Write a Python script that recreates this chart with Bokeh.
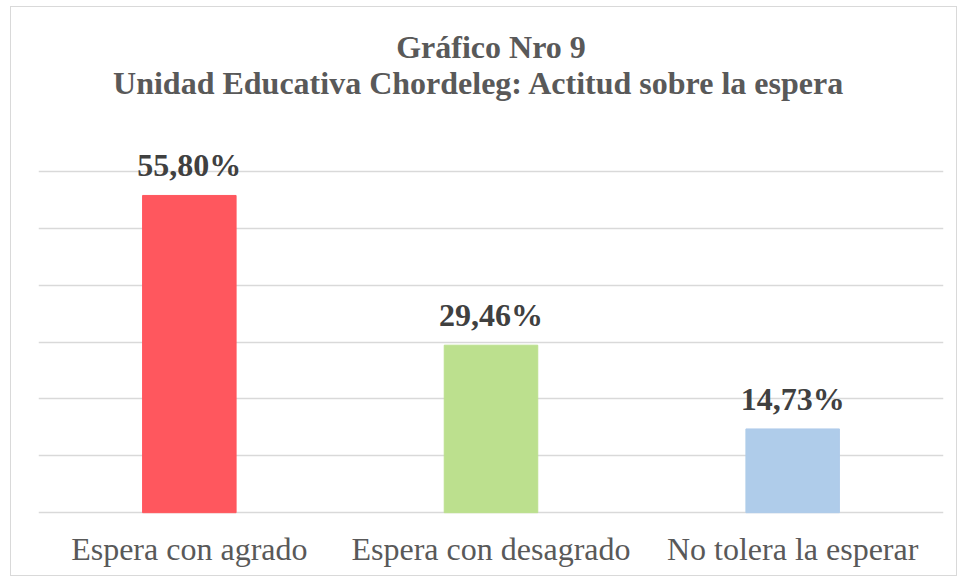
from bokeh.plotting import figure
from bokeh.models import ColumnDataSource, LabelSet, FixedTicker
from bokeh.embed import file_html
from bokeh.resources import INLINE

categories = ["Espera con agrado", "Espera con desagrado", "No tolera la esperar"]
values = [55.80, 29.46, 14.73]
labels = ["55,80%", "29,46%", "14,73%"]
colors = ["#FF575E", "#BCE08E", "#AFCCEA"]
grid_ticks = [0, 10, 20, 30, 40, 50, 60]
title_lines = ["Gráfico Nro 9", "Unidad  Educativa  Chordeleg: Actitud  sobre la espera"]

SERIF = "Liberation Serif"

source = ColumnDataSource(dict(cat=categories, val=values, lab=labels, col=colors,
                               base=[grid_ticks[0]] * len(categories)))
mid = categories[len(categories) // 2]
top_tick = grid_ticks[-1]
title_src = ColumnDataSource(dict(x=[mid, mid], y=[top_tick, top_tick], t=title_lines,
                                  off=[114, 78]))

p = figure(x_range=categories, y_range=(-10.7, 86.4), width=947, height=570,
           output_backend="svg", toolbar_location=None,
           min_border_left=27, min_border_right=15, min_border_bottom=4,
           min_border_top=14)
p.margin = (6, 0, 0, 10)
p.styles = {"border": "1px solid #d9d9d9", "box-sizing": "border-box"}
p.title = None
p.x_range.range_padding = 0
p.background_fill_color = "white"
p.border_fill_color = "white"
p.outline_line_color = None

p.vbar(x="cat", top="val", width=0.31, color="col", source=source)

p.add_layout(LabelSet(x="cat", y="val", text="lab", source=source,
                      text_align="center", text_baseline="alphabetic",
                      y_offset=19, text_font=SERIF,
                      text_font_style="bold", text_font_size="32px",
                      text_color="#404040"))

# category labels
p.add_layout(LabelSet(x="cat", y="base", text="cat", source=source,
                      text_align="center", text_baseline="alphabetic",
                      y_offset=-47, text_font=SERIF,
                      text_font_size="32px", text_color="#595959"))

# title lines
p.add_layout(LabelSet(x="x", y="y", text="t", source=title_src,
                      text_align="center", text_baseline="alphabetic",
                      y_offset="off", text_font=SERIF, text_font_style="bold",
                      text_font_size="32px", text_color="#595959"))

p.xaxis.visible = False
p.yaxis.visible = False
p.ygrid.ticker = FixedTicker(ticks=grid_ticks)
p.ygrid.grid_line_color = "#d9d9d9"
p.ygrid.grid_line_width = 1.5
p.xgrid.grid_line_color = None

open("out.html", "w").write(file_html(p, INLINE))
